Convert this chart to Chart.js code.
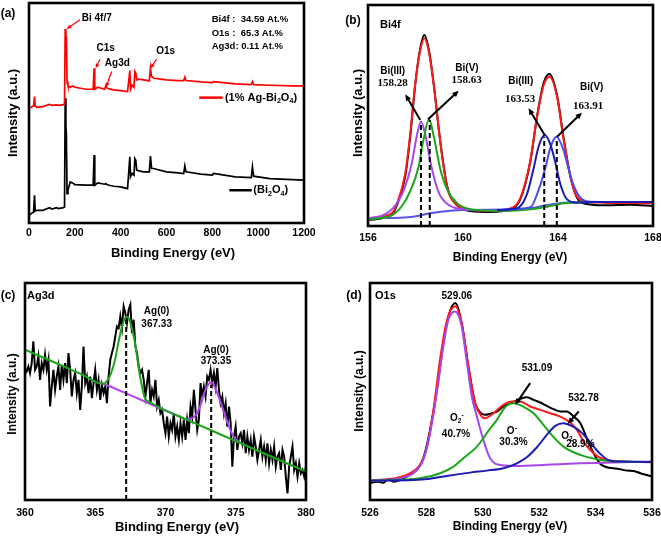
<!DOCTYPE html>
<html>
<head>
<meta charset="utf-8">
<script src="https://cdn.jsdelivr.net/npm/chart.js@4.4.0/dist/chart.umd.min.js"></script>
<style>
  html, body { margin: 0; padding: 0; background: #fff; }
  #fig { position: relative; width: 661px; height: 537px; overflow: hidden; }
  #fig canvas { position: absolute; }
</style>
</head>
<body>
<div id="fig">
  <canvas id="panelA" width="330" height="268" style="left:0;top:0"></canvas>
  <canvas id="panelB" width="331" height="268" style="left:330px;top:0"></canvas>
  <canvas id="panelC" width="330" height="269" style="left:0;top:268px"></canvas>
  <canvas id="panelD" width="331" height="269" style="left:330px;top:268px"></canvas>
</div>
<script>
// ---- (a) survey spectra ----
const surveyEnergy = [0, 10, 20, 24, 27, 35, 60, 90, 100, 120, 130, 150, 155, 158, 161, 163, 166, 170, 180, 190,
  200, 250, 280, 284, 287, 300, 330, 335, 340, 350, 370, 400, 430, 440, 443, 450, 458, 462, 466, 470,
  480, 500, 525, 530, 535, 545, 560, 600, 650, 675, 680, 685, 750, 800, 805, 900, 970, 975, 980, 1050, 1150, 1200];
const surveyAgBi = [343, 346, 350, 378, 350, 346, 348, 355, 352, 353, 352, 354, 356, 580, 518, 558, 423, 410, 406, 410,
  406, 400, 400, 463, 400, 406, 400, 410, 404, 401, 398, 396, 393, 456, 400, 413, 406, 453, 448, 428,
  430, 428, 425, 463, 438, 433, 432, 428, 426, 426, 436, 426, 422, 420, 423, 416, 414, 423, 414, 412, 410, 410];
const surveyBi = [23, 28, 33, 83, 36, 38, 38, 46, 42, 46, 43, 46, 48, 373, 288, 268, 88, 98, 123, 120,
  115, 113, 113, 203, 113, 120, 116, 118, 115, 113, 110, 108, 103, 198, 138, 148, 143, 193, 188, 158,
  156, 153, 153, 200, 163, 163, 160, 153, 150, 148, 171, 153, 146, 143, 148, 138, 136, 168, 140, 133, 130, 128];
const surveyTicks = [0, 200, 400, 600, 800, 1000, 1200];

// ---- (b) Bi4f ----
const biEnergy = [156.00, 157.00, 157.22, 157.57, 157.78, 157.99, 158.18, 158.37, 158.57, 158.76, 159.05, 159.33, 159.75, 160.31,
  161.15, 161.99, 162.41, 162.84, 163.12, 163.40, 163.64, 163.96, 164.24, 164.52, 164.80, 165.22, 165.92, 167.05, 168.00];
const biRaw = [18, 33, 63, 150, 270, 425, 525, 573, 525, 430, 250, 120, 62, 45, 42, 50, 80, 195, 330, 430, 456, 392, 262, 150, 85, 66, 62, 64, 60];
const biFit = [23, 38, 68, 158, 278, 428, 520, 563, 520, 428, 248, 118, 63, 48, 46, 53, 83, 198, 328, 423, 448, 388, 258, 148, 88, 73, 70, 69, 68];
const bi3aEnergy = [156.00, 156.66, 157.08, 157.43, 157.64, 157.85, 158.04, 158.23, 158.43, 158.62, 158.84, 159.05, 159.47, 160.03, 160.73, 161.99];
const bi3a = [23, 33, 55, 95, 135, 190, 265, 313, 268, 195, 130, 90, 60, 50, 47, 46];
const bi5aEnergy = [156.00, 156.94, 157.43, 157.78, 158.12, 158.34, 158.57, 158.79, 159.03, 159.33, 159.75, 160.31, 161.15, 161.99, 162.84, 163.54, 164.24, 165.64, 168.00];
const bi5a = [20, 30, 60, 105, 175, 260, 320, 262, 175, 110, 68, 50, 46, 46, 50, 58, 68, 72, 72];
const biBgEnergy = [156.00, 157.92, 158.62, 159.47, 160.03, 162.13, 162.84, 163.54, 164.24, 165.64, 168.00];
const biBg = [23, 28, 38, 46, 48, 50, 53, 63, 70, 72, 72];
const bi3bEnergy = [161.43, 162.27, 162.69, 162.98, 163.19, 163.44, 163.68, 163.89, 164.10, 164.38, 164.80, 165.64, 168.00];
const bi3b = [48, 53, 95, 175, 240, 273, 245, 190, 125, 80, 70, 72, 72];
const bi5bEnergy = [161.71, 162.84, 163.19, 163.47, 163.68, 163.93, 164.17, 164.38, 164.59, 164.94, 165.36, 168.00];
const bi5b = [49, 56, 110, 175, 235, 268, 240, 190, 135, 85, 73, 72];
const biDashPos = [158.23, 158.6, 163.42, 163.95];
const biDashTop = [313, 318, 268, 263];
const biTicks = [156, 160, 164, 168];

// ---- (c) Ag3d ----
const agStart = 360, agStep = 0.119;
const agRaw = [395, 385, 400, 380, 410, 475, 390, 400, 430, 360,
  410, 390, 435, 390, 420, 280, 340, 390, 330, 370,
  400, 330, 405, 360, 410, 350, 440, 390, 310, 360,
  380, 320, 360, 270, 340, 460, 350, 370, 320, 370,
  305, 350, 390, 330, 360, 300, 345, 320, 340, 290,
  370, 420, 440, 460, 490, 520, 515, 550, 515, 580,
  560, 530, 570, 585, 500, 540, 460, 440, 400, 380,
  390, 360, 310, 350, 390, 290, 330, 310, 360, 280,
  300, 260, 270, 230, 200, 250, 190, 230, 210, 260,
  190, 220, 180, 230, 190, 240, 180, 240, 200, 280,
  250, 330, 270, 210, 240, 350, 310, 340, 310, 370,
  360, 390, 350, 380, 340, 395, 330, 290, 310, 260,
  290, 220, 280, 230, 100, 190, 220, 150, 190, 200,
  170, 210, 140, 190, 150, 180, 130, 190, 160, 120,
  150, 180, 130, 160, 120, 170, 110, 150, 120, 160,
  100, 130, 140, 90, 150, 130, 70, 20, 100, 130,
  160, 90, 110, 70, 110, 80, 90, 70, 100];
const agEnergy = agRaw.map((_, i) => +(agStart + i * agStep).toFixed(3));
const agPeak1Energy = [360, 362, 364, 365.58, 365.93, 366.17, 366.41, 366.64, 366.88, 367.12, 367.31, 367.54, 367.83, 368.19, 368.54, 369.02, 369.61, 372, 376, 380];
const agPeak1 = [450, 414, 377, 348, 362, 385, 420, 470, 515, 545, 548, 525, 470, 370, 305, 290, 276, 232, 158, 85];
const agPeak2Energy = [365.34, 367, 369, 371, 371.51, 371.98, 372.22, 372.46, 372.69, 372.93, 373.29, 373.64, 373.99, 374.35, 374.83, 375.30];
const agPeak2 = [353, 323, 286, 250, 241, 247, 258, 280, 312, 338, 352, 325, 285, 240, 190, 172];
const agDashPos = [367.2, 373.25];
const agDashTop = [540, 345];
const agTicks = [360, 365, 370, 375, 380];

// ---- (d) O1s ----
const oEnergy = [526.00, 526.24, 526.47, 526.65, 526.83, 527.07, 527.30, 527.48, 527.66, 527.89,
  528.13, 528.37, 528.60, 528.78, 529.02, 529.25, 529.49, 529.73, 529.91, 530.08,
  530.26, 530.50, 530.73, 531.03, 531.33, 531.56, 531.80, 532.04, 532.27, 532.51,
  532.75, 532.98, 533.22, 533.46, 533.69, 533.93, 534.17, 534.40, 534.64, 534.88,
  535.11, 535.35, 535.59, 535.82, 536.00];
const oRaw = [50, 55, 52, 62, 55, 60, 70, 80, 90, 125,
  210, 330, 470, 550, 590, 530, 400, 290, 262, 255,
  258, 265, 280, 292, 303, 308, 300, 292, 282, 272,
  265, 265, 250, 230, 185, 140, 108, 98, 95, 92,
  88, 87, 80, 75, 70];
const oFitEnergy = [526.00, 527.42, 528.01, 528.25, 528.49, 528.72, 529.02, 529.25, 529.49, 529.73, 529.96, 530.08, 530.38, 530.73,
  531.03, 531.33, 531.68, 532.04, 532.39, 532.75, 533.10, 533.34, 533.57, 533.93, 534.28, 534.76, 536.00];
const oFit = [58, 80, 155, 270, 425, 535, 580, 530, 400, 290, 250, 245, 260, 285, 295, 295, 280, 270, 260, 250, 232, 210, 175, 140, 122, 116, 113];
const oLatEnergy = [526.00, 527.30, 527.66, 527.89, 528.13, 528.37, 528.60, 528.78, 529.02, 529.25, 529.43, 529.61, 529.79, 530.02, 530.26, 530.62, 531.33, 532.86, 536.00];
const oLat = [58, 70, 90, 120, 200, 320, 460, 540, 565, 520, 415, 310, 250, 180, 125, 105, 102, 108, 115];
const oVacEnergy = [526.00, 527.78, 528.49, 528.96, 529.31, 529.79, 530.02, 530.14, 530.50, 530.79, 531.09, 531.38, 531.80, 532.15, 532.39, 532.86, 533.46, 534.17, 534.88, 536.00];
const oVac = [58, 65, 80, 100, 125, 160, 185, 200, 240, 278, 290, 282, 260, 225, 200, 160, 135, 120, 115, 114];
const oAdsEnergy = [526.00, 527.54, 528.13, 528.72, 529.55, 530.14, 530.73, 531.21, 531.56, 531.92, 532.27, 532.57, 532.86, 533.15, 533.46, 533.69, 533.93, 534.17, 534.40, 534.88, 536.00];
const oAds = [58, 60, 64, 72, 82, 88, 95, 110, 128, 158, 195, 222, 230, 222, 205, 185, 160, 138, 122, 115, 114];
const oTicks = [526, 528, 530, 532, 534, 536];

const SANS = '"Liberation Sans", Arial, Helvetica, sans-serif';
const SERIF = '"Liberation Serif", "Times New Roman", serif';
const RED = '#ff1a1a', PURPLE = '#a646ee', GREEN = '#1aa51a', NAVY = '#1c1cb4', BLUE = '#4a4af2', BASE = '#5a52ea';

const xy = (xs, ys) => xs.map((x, i) => ({x, y: ys[i]}));

function line(xs, ys, color, width, smooth) {
    return {
        data: xy(xs, ys), borderColor: color, borderWidth: width,
        pointRadius: 0, fill: false, tension: 0,
        cubicInterpolationMode: smooth ? 'monotone' : 'default'
    };
}

function dashes(pos, tops) {
    return pos.map((p, i) => ({
        data: [{x: p, y: 0}, {x: p, y: tops[i]}],
        borderColor: '#000', borderWidth: 2, borderDash: [5, 3], pointRadius: 0
    }));
}

// text with optional sub/superscript pieces
function rich(ctx, parts, px, py, size, align, family, rotate) {
    const segs = (typeof parts === 'string' ? [parts] : parts).map(p => {
        const [t, m] = Array.isArray(p) ? p : [p, ''];
        const f = 'bold ' + (m ? size * 0.65 : size) + 'px ' + (family || SANS);
        ctx.font = f;
        return {t, m, f, w: ctx.measureText(t).width};
    });
    const total = segs.reduce((s, g) => s + g.w, 0);
    let x0 = align === 'left' ? 0 : -total / 2;
    ctx.save();
    ctx.translate(px, py);
    if (rotate) ctx.rotate(rotate);
    ctx.fillStyle = '#000';
    ctx.textBaseline = 'middle';
    ctx.textAlign = 'left';
    segs.forEach(g => {
        ctx.font = g.f;
        const dy = g.m === 'sub' ? size * 0.3 : g.m === 'sup' ? -size * 0.35 : 0;
        ctx.fillText(g.t, x0, dy);
        x0 += g.w;
    });
    ctx.restore();
}

function arrow(ctx, x1, y1, x2, y2, color, width, head) {
    ctx.strokeStyle = color;
    ctx.fillStyle = color;
    ctx.lineWidth = width;
    const ang = Math.atan2(y2 - y1, x2 - x1);
    const end = head ? head * 0.7 : 0;
    ctx.beginPath();
    ctx.moveTo(x1, y1);
    ctx.lineTo(x2 - end * Math.cos(ang), y2 - end * Math.sin(ang));
    ctx.stroke();
    if (!head) return;
    ctx.beginPath();
    ctx.moveTo(x2, y2);
    ctx.lineTo(x2 - head * Math.cos(ang - 0.42), y2 - head * Math.sin(ang - 0.42));
    ctx.lineTo(x2 - head * Math.cos(ang + 0.42), y2 - head * Math.sin(ang + 0.42));
    ctx.closePath();
    ctx.fill();
}

function decor(o) {
    return {
        id: 'decor',
        afterDatasetsDraw(chart) {
            const {ctx, chartArea: a, scales: {x, y}} = chart;
            const px = v => x.getPixelForValue(v), py = v => y.getPixelForValue(v);
            ctx.save();
            ctx.lineWidth = 2.6;
            ctx.strokeStyle = '#000';
            ctx.strokeRect(a.left, a.top, a.right - a.left, a.bottom - a.top);
            (o.arrows || []).forEach(r => arrow(ctx, px(r.from[0]), py(r.from[1]), px(r.to[0]), py(r.to[1]), r.color || '#000', r.width || 2, r.head === undefined ? 7 : r.head));
            (o.labels || []).forEach(l => rich(ctx, l.text, px(l.at[0]), py(l.at[1]), l.size || 10, l.align, l.family));
            (o.captions || []).forEach(c => rich(ctx, c.text, c.at[0], c.at[1], c.size, c.align, SANS, c.rotate));
            ctx.restore();
        }
    };
}

function panel(id, o) {
    const sets = o.datasets;
    sets.forEach((d, i) => { d.order = sets.length - i; });  // first listed = drawn first
    return new Chart(document.getElementById(id), {
        type: 'line',
        data: {datasets: sets},
        options: {
            responsive: false,
            animation: false,
            events: [],
            layout: {padding: o.pad},
            plugins: {legend: {display: false}, tooltip: {enabled: false}},
            scales: {
                x: {
                    type: 'linear', min: o.xMin, max: o.xMax,
                    grid: {display: false, drawTicks: false},
                    border: {display: false},
                    afterBuildTicks: s => { s.ticks = o.ticks.map(v => ({value: v})); },
                    ticks: {
                        padding: o.tickPad, color: '#000', autoSkip: false, maxRotation: 0,
                        font: {family: SANS, size: 10.5, weight: 'bold'},
                        callback: v => String(v)
                    },
                    afterFit: s => { s.height = o.axisH; s.paddingLeft = 0; s.paddingRight = 0; }
                },
                y: {display: false, min: 0, max: o.yMax}
            }
        },
        plugins: [decor(o)]
    });
}

const V = -Math.PI / 2;

panel('panelA', {
    xMin: 0, xMax: 1200, yMax: 658, ticks: surveyTicks,
    pad: {left: 29, top: 3, right: 26, bottom: 0}, axisH: 45, tickPad: 4,
    datasets: [
        line(surveyEnergy, surveyBi, '#000', 1.7, false),
        line(surveyEnergy, surveyAgBi, '#ff0000', 1.7, false)
    ],
    arrows: [
        {from: [222.5, 608], to: [164.4, 580], color: '#ff0000', width: 1.2, head: 5},
        {from: [309.8, 490], to: [290.9, 463], color: '#ff0000', width: 1.2, head: 5},
        {from: [360.7, 453], to: [336, 406], color: '#ff0000', width: 1.2, head: 5},
        {from: [557, 490], to: [530.9, 463], color: '#ff0000', width: 1.2, head: 5},
        {from: [743, 375], to: [845, 375], color: '#ff0000', width: 2.5, head: 0},
        {from: [874, 98], to: [972, 98], color: '#000', width: 2.5, head: 0}
    ],
    labels: [
        {text: 'Bi 4f/7', at: [230, 613], align: 'left'},
        {text: 'C1s', at: [334.5, 523]},
        {text: 'Ag3d', at: [385.5, 478]},
        {text: 'O1s', at: [596.4, 513]},
        {text: 'Bi4f :  34.59 At.%', at: [797, 608], align: 'left', size: 9.5},
        {text: 'O1s :  65.3 At.%', at: [797, 568], align: 'left', size: 9.5},
        {text: 'Ag3d: 0.11 At.%', at: [797, 528], align: 'left', size: 9.5},
        {text: ['(1% Ag-Bi', ['2', 'sub'], 'O', ['4', 'sub'], ')'], at: [855, 375], align: 'left', size: 11},
        {text: ['(Bi', ['2', 'sub'], 'O', ['4', 'sub'], ')'], at: [979, 98], align: 'left', size: 11}
    ],
    captions: [
        {text: '(a)', at: [8, 14], size: 12},
        {text: 'Intensity (a.u.)', at: [13, 113], size: 13, rotate: V},
        {text: 'Binding Energy (eV)', at: [173, 253], size: 13}
    ]
});

panel('panelB', {
    xMin: 156, xMax: 168, yMax: 663, ticks: biTicks,
    pad: {left: 38, top: 5, right: 8, bottom: 0}, axisH: 42, tickPad: 5.7,
    datasets: [
        line(biEnergy, biRaw, '#000', 2, true),
        line(biEnergy, biFit, RED, 2, true),
        line(biBgEnergy, biBg, BASE, 2, true),
        line(bi3aEnergy, bi3a, PURPLE, 2, true),
        line(bi5aEnergy, bi5a, GREEN, 2, true),
        line(bi5bEnergy, bi5b, BLUE, 2, true),
        line(bi3bEnergy, bi3b, NAVY, 2, true),
        ...dashes(biDashPos, biDashTop)
    ],
    arrows: [
        {from: [158.2, 318], to: [157.57, 395]},
        {from: [158.53, 320], to: [159.82, 406]},
        {from: [163.44, 273], to: [162.76, 353]},
        {from: [163.96, 268], to: [165.01, 340]}
    ],
    labels: [
        {text: 'Bi(III)', at: [157.04, 465]},
        {text: '158.28', at: [157.04, 430], family: SERIF, size: 11},
        {text: 'Bi(V)', at: [160.17, 473]},
        {text: '158.63', at: [160.15, 438], family: SERIF, size: 11},
        {text: 'Bi(III)', at: [162.43, 435]},
        {text: '163.53', at: [162.41, 380], family: SERIF, size: 11},
        {text: 'Bi(V)', at: [165.42, 416]},
        {text: '163.91', at: [165.27, 361], family: SERIF, size: 11}
    ],
    captions: [
        {text: '(b)', at: [23, 21], size: 12},
        {text: 'Bi4f', at: [50, 25], size: 11, align: 'left'},
        {text: 'Intensity (a.u.)', at: [28, 113], size: 13, rotate: V},
        {text: 'Binding Energy (eV)', at: [180, 258], size: 12}
    ]
});

panel('panelC', {
    xMin: 360, xMax: 380, yMax: 650, ticks: agTicks,
    pad: {left: 25, top: 15, right: 24, bottom: 0}, axisH: 37, tickPad: 7,
    datasets: [
        line(agEnergy, agRaw, '#000', 2, false),
        line(agPeak2Energy, agPeak2, '#b040f0', 2, true),
        line(agPeak1Energy, agPeak1, GREEN, 2, true),
        ...dashes(agDashPos, agDashTop)
    ],
    labels: [
        {text: 'Ag(0)', at: [369.37, 565]},
        {text: '367.33', at: [369.37, 527]},
        {text: 'Ag(0)', at: [373.59, 450]},
        {text: '373.35', at: [373.59, 415]}
    ],
    captions: [
        {text: '(c)', at: [8, 28], size: 12},
        {text: 'Ag3d', at: [27, 28], size: 11, align: 'left'},
        {text: 'Intensity (a.u.)', at: [13, 126], size: 12, rotate: V},
        {text: 'Binding Energy (eV)', at: [177, 259], size: 13}
    ]
});

panel('panelD', {
    xMin: 526, xMax: 536, yMax: 650, ticks: oTicks,
    pad: {left: 40, top: 15, right: 9, bottom: 0}, axisH: 37, tickPad: 7,
    datasets: [
        line(oEnergy, oRaw, '#000', 2, true),
        line(oFitEnergy, oFit, RED, 2, true),
        line(oLatEnergy, oLat, PURPLE, 2, true),
        line(oVacEnergy, oVac, GREEN, 2, true),
        line(oAdsEnergy, oAds, NAVY, 2, true)
    ],
    arrows: [
        {from: [531.68, 350], to: [531.15, 285]},
        {from: [533.40, 265], to: [533.01, 228]}
    ],
    labels: [
        {text: '529.06', at: [529.08, 610]},
        {text: '531.09', at: [531.92, 395]},
        {text: '532.78', at: [533.57, 305]},
        {text: ['O', ['2', 'sub'], ['-', 'sup']], at: [529.08, 245]},
        {text: '40.7%', at: [529.05, 197]},
        {text: ['O', ['-', 'sup']], at: [531.03, 205]},
        {text: '30.3%', at: [531.09, 172]},
        {text: ['O', ['2', 'sub']], at: [532.98, 192]},
        {text: '28.9%', at: [533.46, 168]}
    ],
    captions: [
        {text: '(d)', at: [24, 28], size: 12},
        {text: 'O1s', at: [45, 28], size: 11, align: 'left'},
        {text: 'Intensity (a.u.)', at: [30, 123], size: 12, rotate: V},
        {text: 'Binding Energy (eV)', at: [180, 259], size: 12}
    ]
});
</script>
</body>
</html>
